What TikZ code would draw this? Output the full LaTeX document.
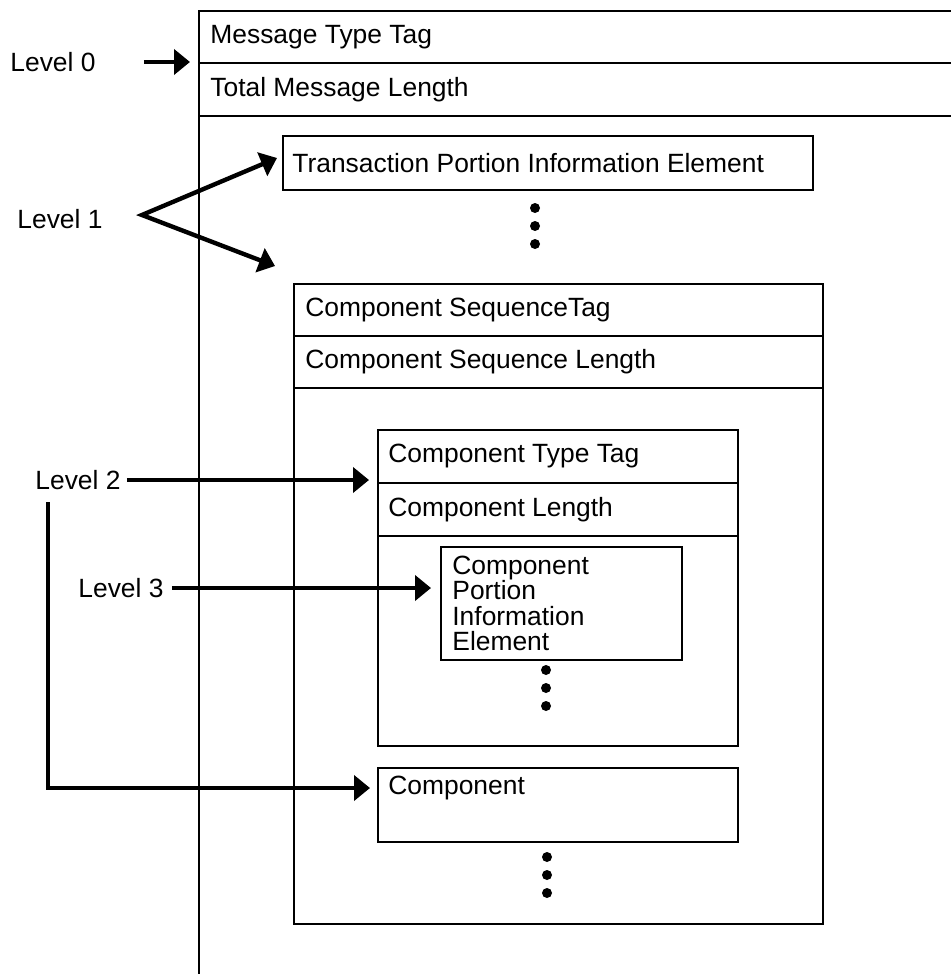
\documentclass[tikz,border=0pt]{standalone}
\usepackage{fontspec}
\setsansfont{Liberation Sans}
\usetikzlibrary{positioning, arrows.meta}

\begin{document}
\begin{tikzpicture}[
  x=0.5pt, y=-0.5pt,
  every node/.style={font=\sffamily\fontsize{13.2}{12.6}\selectfont},
  fld/.style={draw, line width=1pt, anchor=north west, inner sep=0pt},
  txt/.style={inner sep=0pt, align=left},
  lvl/.style={inner sep=0pt, anchor=west},
  arr/.style={line width=2.2pt, ->},
  >={Triangle[length=8pt, width=12.5pt]},
]
  % Page
  \useasboundingbox (0,0) rectangle (951,974);

  % Message (outer box, runs off the page)
  \node[fld, minimum width=383.5pt, minimum height=490pt] (msg) at (198,10) {};
  \node[fld, minimum width=383.5pt, minimum height=26pt] (tag) at (198,10) {};
  \node[fld, minimum width=383.5pt, minimum height=26.5pt] (len) at (198,62) {};
  \node[txt, right=6pt of tag.west] (tagtxt) {Message Type Tag};
  \node[txt, right=6pt of len.west] (lentxt) {Total Message Length};

  % Transaction portion
  \node[fld, minimum width=265pt, minimum height=27pt] (tpie) at (282,135) {};
  \node[txt, right=5pt of tpie.west] (tpietxt) {Transaction Portion Information Element};
  \foreach \y in {208,226,244} \fill (535,\y) circle (2.5pt);

  % Component sequence
  \node[fld, minimum width=264.5pt, minimum height=320pt] (seq) at (293,283) {};
  \node[fld, minimum width=264.5pt, minimum height=26pt] (seqtag) at (293,283) {};
  \node[fld, minimum width=264.5pt, minimum height=26pt] (seqlen) at (293,335) {};
  \node[txt, right=6pt of seqtag.west] (seqtagtxt) {Component SequenceTag};
  \node[txt, right=6pt of seqlen.west] (seqlentxt) {Component Sequence Length};

  % Component
  \node[fld, minimum width=180pt, minimum height=158pt] (comp) at (377,429) {};
  \node[fld, minimum width=180pt, minimum height=26.5pt] (comptag) at (377,429) {};
  \node[fld, minimum width=180pt, minimum height=26.5pt] (complen) at (377,482) {};
  \node[txt, right=5.5pt of comptag.west] (comptagtxt) {Component Type Tag};
  \node[txt, right=5.5pt of complen.west] (complentxt) {Component Length};
  \node[fld, minimum width=120.5pt, minimum height=56.5pt] (cpie) at (440,546) {};
  \node[txt, right=6pt of cpie.west] (cpietxt) {Component\\Portion\\Information\\Element};
  \foreach \y in {670,688,706} \fill (546,\y) circle (2.5pt);

  % Next component
  \node[fld, minimum width=180pt, minimum height=37pt] (comp2) at (377,767) {};
  \node[txt, anchor=west] (comp2txt) at ([xshift=5.5pt, yshift=-10.5pt]comp2.north west) {Component};
  \foreach \y in {857,875,893} \fill (547,\y) circle (2.5pt);

  % Level labels
  \node[lvl] (lvl0) at (10,62) {Level 0};
  \node[lvl] (lvl1) at (17,219) {Level 1};
  \node[lvl] (lvl2) at (35,480) {Level 2};
  \node[lvl] (lvl3) at (78,588) {Level 3};

  % Arrows
  \draw[arr] ([xshift=24pt]lvl0.east) -- ([xshift=-4pt]lvl0.east -| len.west);
  \coordinate (v1) at ([xshift=19.5pt, yshift=2pt]lvl1.east);
  \draw[arr, <->] ([xshift=-2.5pt, yshift=2.5pt]tpie.west) -- (v1)
    -- ([xshift=-9pt, yshift=8.5pt]seq.north west);
  \draw[arr] ([xshift=3pt]lvl2.east) -- ([xshift=-4pt]lvl2.east -| comptag.west);
  \draw[arr] ([xshift=6.5pt, yshift=-6pt]lvl2.south west) |- ([xshift=-9pt]comp2txt.west);
  \draw[arr] ([xshift=4pt]lvl3.east) -- ([xshift=-4.5pt]lvl3.east -| cpie.west);
\end{tikzpicture}
\end{document}
